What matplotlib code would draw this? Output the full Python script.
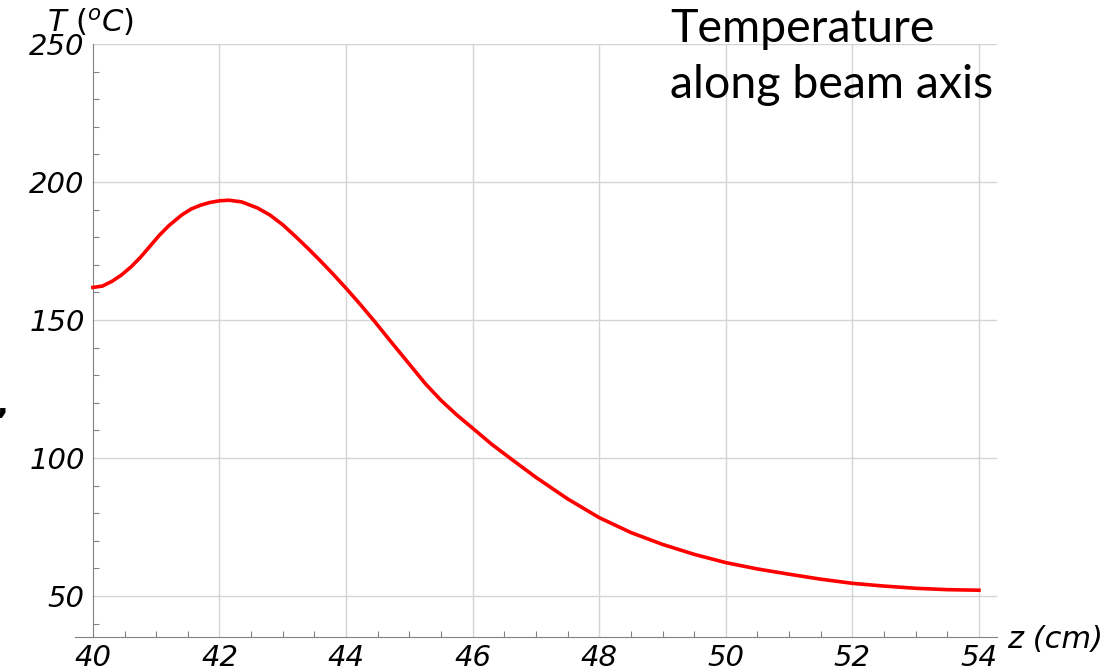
#!/usr/bin/env python3
"""Temperature along beam axis, T vs z."""

import matplotlib

matplotlib.use("Agg")
import matplotlib.pyplot as plt
from matplotlib.ticker import MultipleLocator

# values
z_cm = [40.0, 40.15, 40.3, 40.45, 40.6, 40.75, 40.9, 41.05, 41.2, 41.4, 41.55,
        41.7, 41.85, 42.0, 42.15, 42.35, 42.6, 42.8, 43.0, 43.2, 43.4, 43.6,
        43.8, 44.0, 44.2, 44.45, 44.7, 45.0, 45.25, 45.5, 45.75, 46.0, 46.3,
        46.6, 47.0, 47.5, 48.0, 48.5, 49.0, 49.5, 50.0, 50.5, 51.0, 51.5,
        52.0, 52.5, 53.0, 53.5, 54.0]
temp_c = [161.8, 162.3, 164.0, 166.3, 169.2, 172.7, 176.7, 180.7, 184.2, 188.0,
          190.2, 191.6, 192.6, 193.2, 193.4, 192.8, 190.6, 188.0, 184.5, 180.3,
          175.9, 171.3, 166.5, 161.5, 156.3, 149.5, 142.4, 134.0, 127.0, 120.9,
          115.6, 110.8, 105.0, 99.8, 93.0, 85.2, 78.4, 73.0, 68.7, 65.1, 62.1,
          59.8, 57.9, 56.1, 54.6, 53.6, 52.8, 52.3, 52.1]
x_ticks = [40, 42, 44, 46, 48, 50, 52, 54]
y_ticks = [50, 100, 150, 200, 250]

GRID = "#d4d4d4"
AXIS = "#808080"


def main() -> None:
    plt.rcParams.update({"mathtext.fontset": "dejavusans"})
    fig = plt.figure(figsize=(11.17, 6.69), dpi=100)
    ax = fig.add_axes([0.0671, 0.0478, 0.8254, 0.8864])

    ax.set_xlim(39.716, 54.284)
    ax.set_ylim(35.14, 250)

    # grid lines drawn by hand so they start at the y axis like the original
    for x in x_ticks[1:]:
        ax.plot([x, x], [35.14, 250], color=GRID, lw=1.0, zorder=1)
    for y in y_ticks:
        ax.plot([40, 54.284], [y, y], color=GRID, lw=1.0, zorder=1)

    ax.plot(z_cm, temp_c, color="#ff0000", lw=2.6, zorder=3,
            solid_joinstyle="round")

    for side in ("top", "right"):
        ax.spines[side].set_visible(False)
    ax.spines["left"].set_position(("data", 40))
    ax.spines["left"].set_color(AXIS)
    ax.spines["bottom"].set_color(AXIS)

    ax.set_xticks(x_ticks)
    ax.set_yticks(y_ticks)
    ax.xaxis.set_minor_locator(MultipleLocator(0.5))
    ax.yaxis.set_minor_locator(MultipleLocator(10))
    ax.tick_params(which="both", direction="in", color=AXIS)
    ax.tick_params(which="major", length=0, labelsize=21, pad=5)
    ax.tick_params(axis="y", which="major", pad=6)
    ax.tick_params(which="minor", length=4, width=0.8)
    for lab in ax.get_xticklabels() + ax.get_yticklabels():
        lab.set_fontstyle("italic")

    fig.text(1007 / 1117, 1 - 640 / 669, "z (cm)", fontsize=22, style="italic",
             ha="left", va="center")
    fig.text(47 / 1117, 1 - 6 / 669, r"$T\ (^{o}C)$", fontsize=22,
             ha="left", va="top")
    fig.text(670 / 1117, 1 - 8 / 669, "Temperature\nalong beam axis",
             fontsize=33.5, family="Lato", ha="left", va="top", linespacing=1.4)
    fig.text(-4 / 1117, 1 - 405 / 669, ",", fontsize=22, fontweight="bold",
             ha="left", va="center")

    fig.savefig("out.png", dpi=100)
    plt.close(fig)


if __name__ == "__main__":
    main()
